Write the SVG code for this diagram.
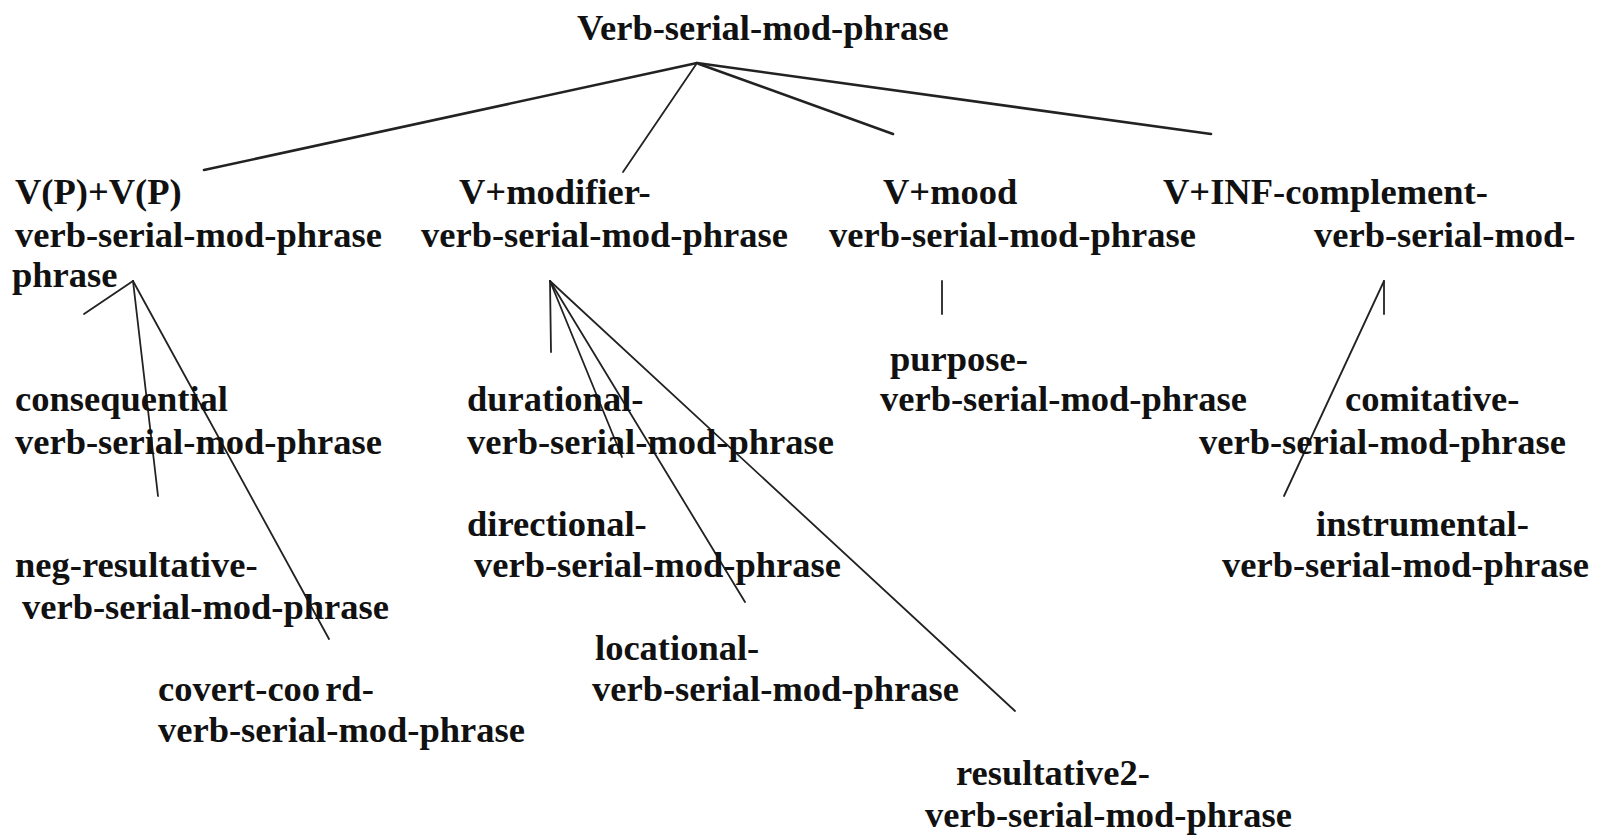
<svg xmlns="http://www.w3.org/2000/svg" width="1600" height="835" viewBox="0 0 1600 835">
<style>
text{font-family:"Liberation Serif","Times New Roman",serif;font-weight:bold;font-size:36.5px;fill:#111;}
.e{stroke:#222;stroke-width:1.8;fill:none;stroke-linecap:round;}
.t{stroke-width:2.6;}
</style>
<rect width="1600" height="835" fill="#fff"/>
<g id="connectors">
<line class="e t" x1="697" y1="63" x2="204" y2="170"/>
<line class="e" x1="697" y1="63" x2="623" y2="172"/>
<line class="e t" x1="699" y1="64" x2="893" y2="134"/>
<line class="e t" x1="697" y1="63" x2="1211" y2="134"/>
<line class="e" x1="133" y1="281" x2="84" y2="314"/>
<line class="e" x1="133" y1="281" x2="158" y2="496"/>
<line class="e" x1="133" y1="281" x2="329" y2="639"/>
<line class="e" x1="550" y1="281" x2="551" y2="352"/>
<line class="e" x1="550" y1="281" x2="622" y2="457"/>
<line class="e" x1="550" y1="281" x2="745" y2="602"/>
<line class="e" x1="550" y1="281" x2="1015" y2="711"/>
<line class="e" x1="942" y1="281" x2="942" y2="314"/>
<line class="e" x1="1384" y1="281" x2="1384" y2="314"/>
<line class="e" x1="1384" y1="281" x2="1284" y2="496"/>
</g>
<g id="root"><text x="577" y="40">Verb-serial-mod-phrase</text></g>
<g id="vpvp"><text x="15" y="204">V(P)+V(P)</text><text x="15" y="247">verb-serial-mod-phrase</text><text x="12" y="287">phrase</text></g>
<g id="vmodifier"><text x="459" y="204">V+modifier-</text><text x="421" y="247">verb-serial-mod-phrase</text></g>
<g id="vmood"><text x="883" y="204">V+mood</text><text x="829" y="247">verb-serial-mod-phrase</text></g>
<g id="vinf"><text x="1163" y="204">V+INF-complement-</text><text x="1314" y="247">verb-serial-mod-</text></g>
<g id="consequential"><text x="15" y="411">consequential</text><text x="15" y="454">verb-serial-mod-phrase</text></g>
<g id="negresultative"><text x="15" y="577">neg-resultative-</text><text x="22" y="619">verb-serial-mod-phrase</text></g>
<g id="covertcoord"><text x="158" y="701">covert-coo<tspan dx="5">rd-</tspan></text><text x="158" y="742">verb-serial-mod-phrase</text></g>
<g id="durational"><text x="467" y="411">durational-</text><text x="467" y="454">verb-serial-mod-phrase</text></g>
<g id="directional"><text x="467" y="536">directional-</text><text x="474" y="577">verb-serial-mod-phrase</text></g>
<g id="locational"><text x="595" y="660">locational-</text><text x="592" y="701">verb-serial-mod-phrase</text></g>
<g id="resultative2"><text x="956" y="785">resultative2-</text><text x="925" y="827">verb-serial-mod-phrase</text></g>
<g id="purpose"><text x="890" y="371">purpose-</text><text x="880" y="411">verb-serial-mod-phrase</text></g>
<g id="comitative"><text x="1345" y="411">comitative-</text><text x="1199" y="454">verb-serial-mod-phrase</text></g>
<g id="instrumental"><text x="1316" y="536">instrumental-</text><text x="1222" y="577">verb-serial-mod-phrase</text></g>
</svg>
